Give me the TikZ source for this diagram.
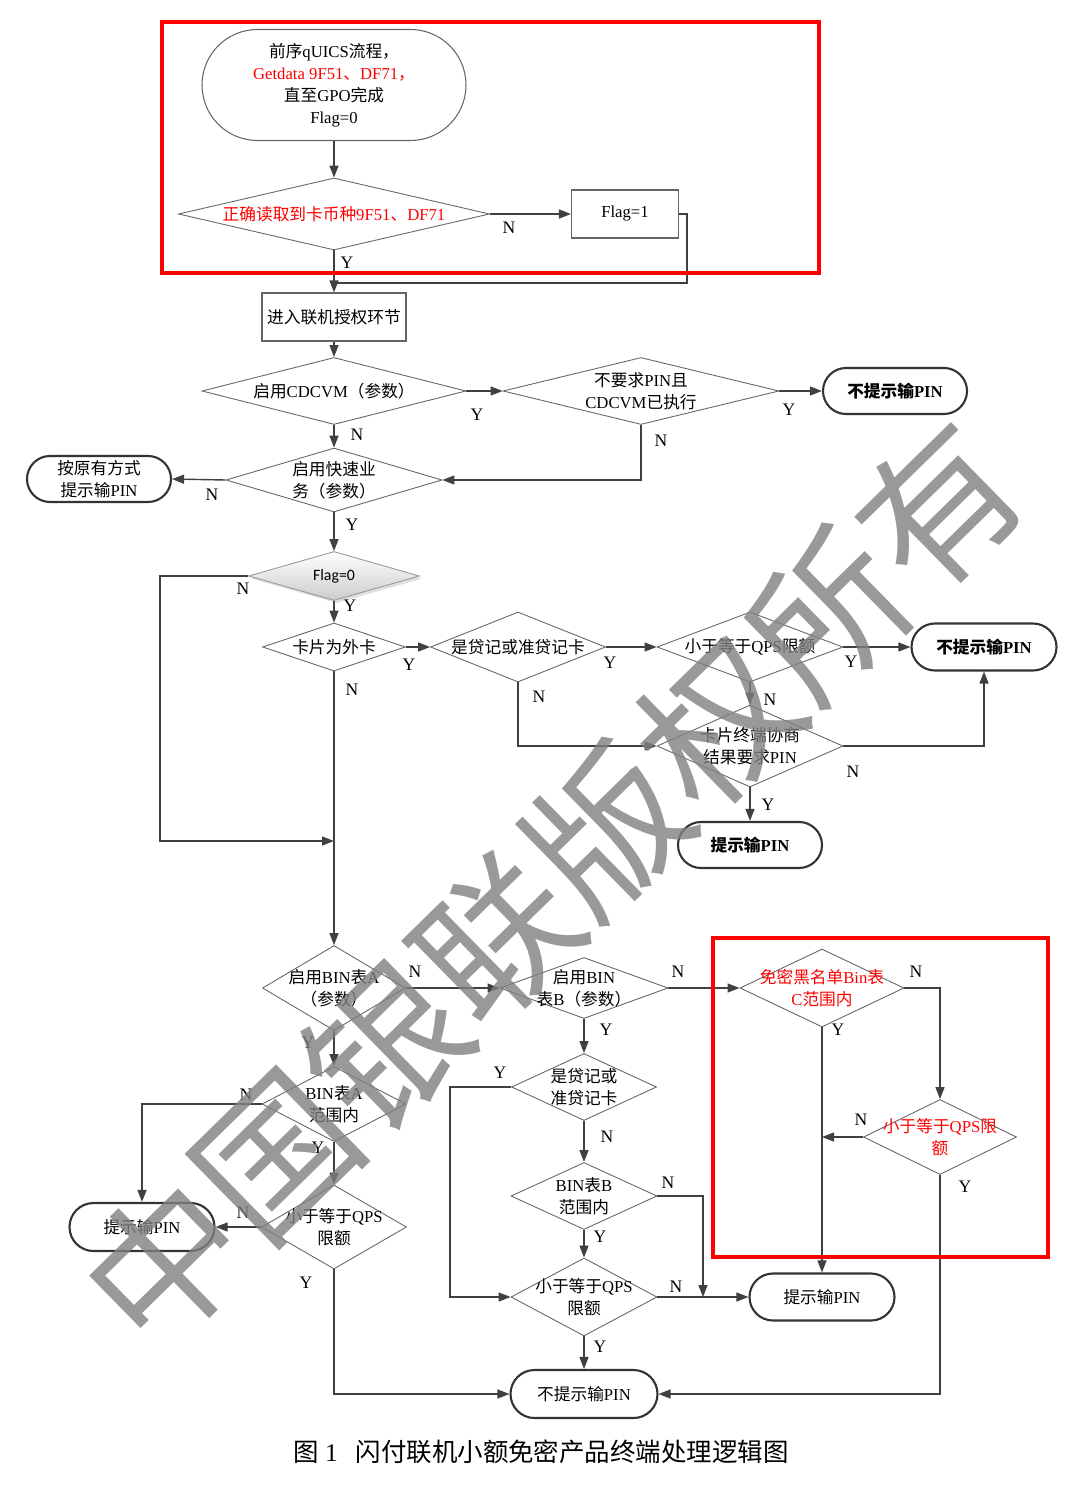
\documentclass[tikz,border=0pt]{standalone}
\usepackage{fontspec}
\setmainfont{Liberation Serif}
\newfontfamily\cjk{Noto Sans CJK SC}
\newfontfamily\flagfont{Carlito}
\usetikzlibrary{shapes.geometric, shapes.misc, arrows.meta, shadows}

% CJK characters switch to \cjk by themselves
\XeTeXinterchartokenstate=1
\newXeTeXintercharclass\cjkclass
\newcount\cjkcode
\def\setcjkrange#1#2{\cjkcode=#1
  \loop \XeTeXcharclass\cjkcode=\cjkclass \advance\cjkcode by 1
  \ifnum\cjkcode<#2 \repeat}
\setcjkrange{"3000}{"3040}
\setcjkrange{"4E00}{"A000}
\setcjkrange{"FF00}{"FFF0}
\XeTeXinterchartoks 0 \cjkclass = {\cjk}
\XeTeXinterchartoks 4095 \cjkclass = {\cjk}
\XeTeXinterchartoks \cjkclass 0 = {\rmfamily}
\XeTeXinterchartoks \cjkclass 4095 = {\rmfamily}

\begin{document}
\begin{tikzpicture}[x=0.02cm, y=-0.02cm,
                  every node/.style={font=\fontsize{9.5}{12.5}\selectfont, align=center},
                  dia/.style 2 args={diamond, draw=black!60, line width=0.5pt, inner xsep=-5cm, inner ysep=0pt,
                                     minimum width=#1*0.02cm, minimum height=#2*0.02cm},
                  term/.style 2 args={rounded rectangle, draw=black!80, line width=1.2pt, inner sep=0pt,
                                      minimum width=#1*0.02cm, minimum height=#2*0.02cm},
                  proc/.style 2 args={rectangle, draw=black!60, line width=0.6pt, inner sep=0pt,
                                      minimum width=#1*0.02cm, minimum height=#2*0.02cm},
                  flagd/.style={top color=white, bottom color=black!20, draw=black!40,
                                drop shadow={opacity=0.25, shadow xshift=1.5pt, shadow yshift=-1.5pt},
                                font=\flagfont\fontsize{9}{11}\selectfont},
                  rd/.style={text=red},
                  bo/.style={font=\fontsize{9.5}{12.5}\selectfont\bfseries},
                  ln/.style={draw=black!75, line width=0.8pt},
                  arr/.style={ln, -{Triangle[length=2.4mm, width=1.8mm]}},
                  yn/.style={font=\fontsize{10}{12}\selectfont, inner sep=0pt},
                  redbox/.style={draw=red, line width=2.3pt}]

    \useasboundingbox (0,0) rectangle (1088,1493); % same size as the scan

    % upper part
    \node[term={264}{111}, draw=black!60, line width=0.6pt] (start) at (334,85)
          {前序qUICS流程，\\ \textcolor{red}{Getdata 9F51、DF71，}\\ 直至GPO完成\\ Flag=0};
    \node[dia={311}{72}, rd] (read) at (334,214) {正确读取到卡币种9F51、DF71};
    \node[proc={107}{48}] (flag1) at (625,214) {Flag=1};
    \node[proc={144}{48}] (online) at (334,317) {进入联机授权环节};
    \node[dia={264}{67}] (cdcvm) at (334,391) {启用CDCVM（参数）};
    \node[dia={276}{67}] (nopin) at (641,391) {不要求PIN且\\CDCVM已执行};
    \node[term={144}{46}, bo] (t1) at (895,391) {不提示输PIN};
    \node[dia={216}{64}] (quick) at (334,480) {启用快速业\\务（参数）};
    \node[term={144}{46}] (orig) at (99,479) {按原有方式\\提示输PIN};
    \node[dia={171}{49}, flagd] (flag0) at (334,576) {Flag=0};
    \node[dia={143}{48}] (foreign) at (334,647) {卡片为外卡};
    \node[dia={175}{70}] (credit) at (518,647) {是贷记或准贷记卡};
    \node[dia={186}{70}] (qps) at (750,647) {小于等于QPS限额};
    \node[term={145}{47}, bo] (t2) at (984,647) {不提示输PIN};
    \node[dia={186}{82}] (nego) at (750,746) {卡片终端协商\\结果要求PIN};
    \node[term={144}{46}, bo] (t3) at (750,845) {提示输PIN};

    % lower part
    \node[dia={143}{85}] (binA) at (334,988) {启用BIN表A\\（参数）};
    \node[dia={168}{61}] (binB) at (584,988) {启用BIN\\表B（参数）};
    \node[dia={164}{78}, rd] (black) at (822,988) {免密黑名单Bin表\\C范围内};
    \node[dia={153}{75}, rd] (qpsC) at (940,1137) {小于等于QPS限\\额};
    \node[dia={145}{67}] (credit2) at (584,1087) {是贷记或\\准贷记卡};
    \node[dia={146}{67}] (inB) at (584,1196) {BIN表B\\范围内};
    \node[dia={146}{78}] (qpsB) at (584,1297) {小于等于QPS\\限额};
    \node[term={145}{47}] (t4) at (822,1297) {提示输PIN};
    \node[term={147}{48}] (t5) at (584,1394) {不提示输PIN};
    \node[dia={144}{75}] (inA) at (334,1104) {BIN表A\\范围内};
    \node[dia={145}{84}] (qpsA) at (334,1227) {小于等于QPS\\限额};
    \node[term={145}{48}] (t6) at (142,1227) {提示输PIN};

    \coordinate (j1) at (334,283);
    \coordinate (j2) at (334,841);
    \coordinate (j3) at (822,1137);
    \coordinate (j4) at (703,1297);

    \draw[arr] (start.south) -- (read.north);
    \draw[arr] (read.east) -- (flag1.west);
    \draw[arr] (read.south) -- (online.north);
    \draw[ln] (flag1.east) -- ++(8,0) |- (j1);
    \draw[arr] (online.south) -- (cdcvm.north);
    \draw[arr] (cdcvm.east) -- (nopin.west);
    \draw[arr] (nopin.east) -- (t1.west);
    \draw[arr] (nopin.south) |- (quick.east);
    \draw[arr] (cdcvm.south) -- (quick.north);
    \draw[arr] (quick.west) -- (orig.east);
    \draw[arr] (quick.south) -- (flag0.north);
    \draw[arr] (flag0.west) -- ++(-88,0) |- (j2);
    \draw[arr] (flag0.south) -- (foreign.north);
    \draw[arr] (foreign.east) -- (credit.west);
    \draw[arr] (credit.east) -- (qps.west);
    \draw[arr] (qps.east) -- (t2.west);
    \draw[arr] (qps.south) -- (nego.north);
    \draw[arr] (credit.south) |- (nego.west);
    \draw[arr] (nego.east) -| (t2.south);
    \draw[arr] (nego.south) -- (t3.north);
    \draw[arr] (foreign.south) -- (binA.north);
    \draw[arr] (binA.east) -- (binB.west);
    \draw[arr] (binB.east) -- (black.west);
    \draw[arr] (black.east) -| (qpsC.north);
    \draw[arr] (qpsC.west) -- (j3);
    \draw[arr] (black.south) -- (t4.north);
    \draw[arr] (qpsC.south) |- (t5.east);
    \draw[arr] (binB.south) -- (credit2.north);
    \draw[arr] (credit2.west) -- ++(-61,0) |- (qpsB.west);
    \draw[arr] (credit2.south) -- (inB.north);
    \draw[arr] (inB.east) -| (j4);
    \draw[arr] (inB.south) -- (qpsB.north);
    \draw[arr] (qpsB.east) -- (t4.west);
    \draw[arr] (qpsB.south) -- (t5.north);
    \draw[arr] (binA.south) -- (inA.north);
    \draw[arr] (inA.west) -| (t6.north);
    \draw[arr] (inA.south) -- (qpsA.north);
    \draw[arr] (qpsA.west) -- (t6.east);
    \draw[arr] (qpsA.south) |- (t5.west);

    % Y / N marks
    \foreach \t/\x/\y [count=\i] in {N/509/228, Y/347/263, Y/477/415, Y/789/410, N/661/441, N/357/435,
        N/212/495, Y/352/525, N/243/589, Y/350/606, Y/409/665, Y/610/663, Y/851/662, N/770/700,
        N/539/697, N/853/772, Y/768/805, N/352/690, N/415/972, N/678/972, N/916/972, N/861/1120,
        Y/838/1030, Y/965/1187, Y/606/1030, Y/500/1073, N/607/1137, N/668/1183, Y/600/1237,
        N/676/1287, Y/600/1347, Y/308/1043, N/246/1095, Y/318/1148, N/243/1213, Y/306/1283}
        \node[yn] (yn\i) at (\x,\y) {\t};

    \draw[redbox] (162,22) rectangle (819,273);
    \draw[redbox] (713,938) rectangle (1048,1257);

    \node[rotate=44.4, text=black!50, text opacity=0.8, inner sep=0pt, font=\cjk\fontsize{88}{88}\selectfont] (mark) at (552,885) {中国银联版权所有};

    \node[font=\fontsize{14.5}{17}\selectfont] (cap) at (541,1452) {图 1\hspace{0.7em}闪付联机小额免密产品终端处理逻辑图};

\end{tikzpicture}
\end{document}
